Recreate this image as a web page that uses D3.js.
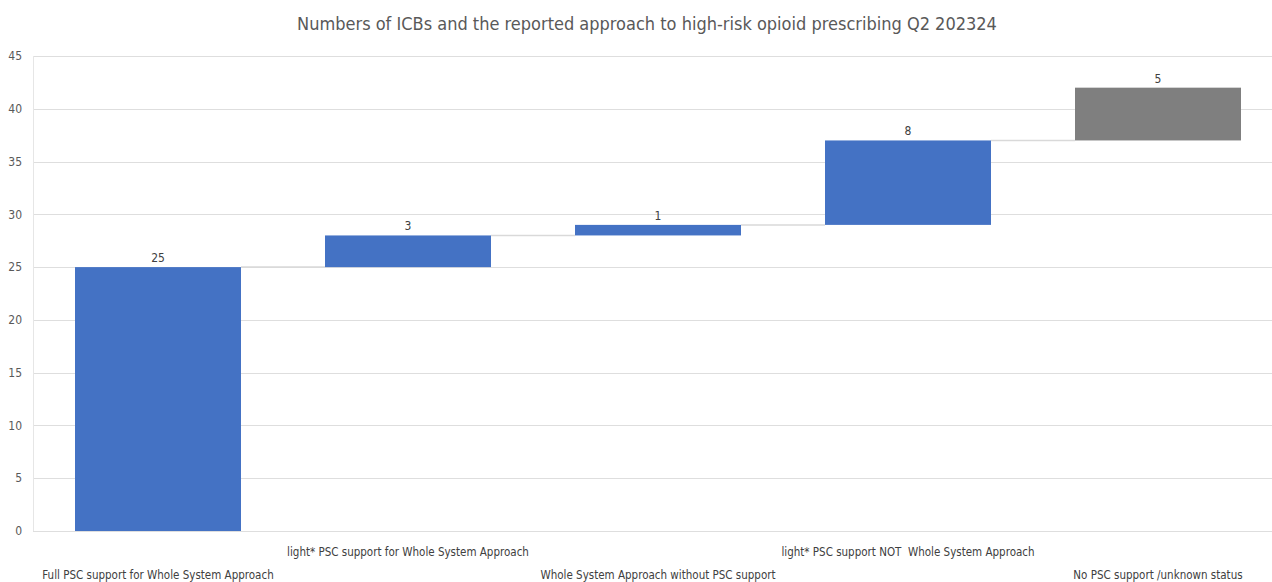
<!DOCTYPE html>
<html>
<head>
<meta charset="utf-8">
<script src="https://cdn.jsdelivr.net/npm/d3@7"></script>
<style>
  html, body { margin: 0; padding: 0; background: #ffffff; }
  svg { display: block; }
  text { font-family: "Liberation Sans Narrow", "DejaVu Sans Condensed", "Open Sans", sans-serif; white-space: pre; }
</style>
</head>
<body>
<svg id="chart" width="1272" height="582"></svg>
<script>
// ---- data ----
const title = "Numbers of ICBs and the reported approach to high-risk opioid prescribing Q2 202324";
const categories = [
  "Full PSC support for Whole System Approach",
  "light* PSC support for Whole System Approach",
  "Whole System Approach without PSC support",
  "light* PSC support NOT  Whole System Approach",
  "No PSC support /unknown status"
];
const values = [25, 3, 1, 8, 5];
const groups = ["reported", "reported", "reported", "reported", "unknown"];
const yTicks = [0, 5, 10, 15, 20, 25, 30, 35, 40, 45];

// ---- layout ----
const W = 1272, H = 582;
const plotLeft = 33, plotBottom = 531, plotTop = 56;
const svg = d3.select("#chart");

const x = d3.scaleBand().domain(categories).range([plotLeft, 1283])
  .paddingInner(0.336).paddingOuter(0.168);
const y = d3.scaleLinear().domain([0, 45]).range([plotBottom, plotTop]);
const color = d3.scaleOrdinal().domain(["reported", "unknown"]).range(["#4472c4", "#7f7f7f"]);

const ends = Array.from(d3.cumsum(values));
const starts = ends.map((e, i) => e - values[i]);

// gridlines
svg.append("g").selectAll("line").data(yTicks).join("line")
  .attr("x1", plotLeft).attr("x2", W)
  .attr("y1", d => Math.round(y(d)) + 0.5).attr("y2", d => Math.round(y(d)) + 0.5)
  .attr("stroke", "#dedede").attr("stroke-width", 1.2);
// left vertical edge
svg.append("line").attr("x1", plotLeft + 0.5).attr("x2", plotLeft + 0.5)
  .attr("y1", y(45)).attr("y2", y(0)).attr("stroke", "#e6e6e6").attr("stroke-width", 1);

// y tick labels
svg.append("g").selectAll("text").data(yTicks).join("text")
  .attr("x", 22).attr("y", d => y(d)).attr("dy", "0.35em")
  .attr("text-anchor", "end").attr("font-size", 12).attr("fill", "#595959")
  .text(d => d);

// connectors
svg.append("g").selectAll("line").data(d3.range(categories.length - 1)).join("line")
  .attr("x1", i => x(categories[i]) + x.bandwidth())
  .attr("x2", i => x(categories[i + 1]))
  .attr("y1", i => y(ends[i])).attr("y2", i => y(ends[i]))
  .attr("stroke", "#d9d9d9").attr("stroke-width", 1.5);

// bars
svg.append("g").selectAll("rect").data(categories).join("rect")
  .attr("x", d => x(d)).attr("width", x.bandwidth())
  .attr("y", (d, i) => y(ends[i]))
  .attr("height", (d, i) => y(starts[i]) - y(ends[i]))
  .attr("fill", (d, i) => color(groups[i]));

// value labels
svg.append("g").selectAll("text").data(categories).join("text")
  .attr("x", d => x(d) + x.bandwidth() / 2)
  .attr("y", (d, i) => y(ends[i]) - 5)
  .attr("text-anchor", "middle").attr("font-size", 12).attr("fill", "#404040")
  .text((d, i) => values[i]);

// category labels (staggered)
svg.append("g").selectAll("text").data(categories).join("text")
  .attr("x", d => x(d) + x.bandwidth() / 2)
  .attr("y", (d, i) => i % 2 === 0 ? 579 : 556)
  .attr("text-anchor", "middle").attr("font-size", 11.5).attr("fill", "#404040")
  .text(d => d);

// title
svg.append("text").attr("x", 647).attr("y", 30)
  .attr("text-anchor", "middle").attr("font-size", 18).attr("fill", "#595959")
  .text(title);
</script>
</body>
</html>
